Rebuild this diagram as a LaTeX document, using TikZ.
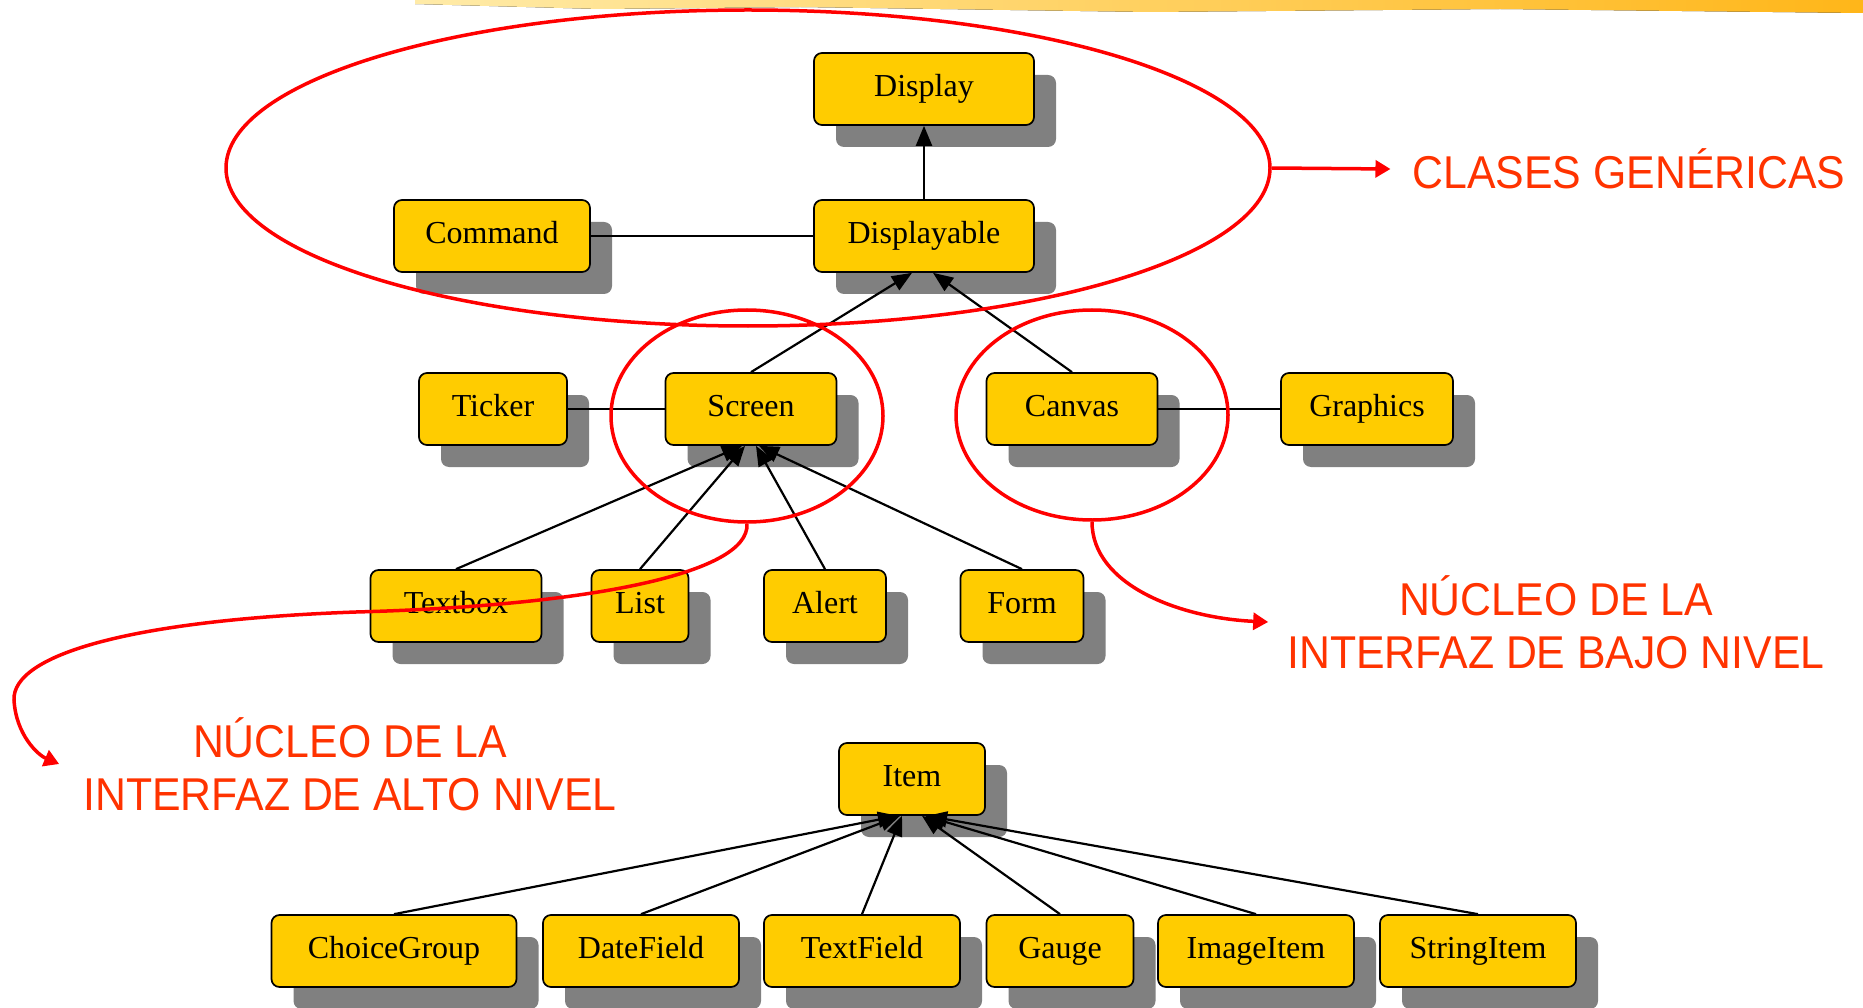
\documentclass[tikz,border=0pt]{standalone}
\usepackage{fontspec}
\setmainfont{Liberation Serif}
\newfontfamily\notefont[FakeStretch=0.93]{Liberation Sans}
\usetikzlibrary{shadows,arrows.meta,shapes.geometric}
\definecolor{boxyellow}{HTML}{FFCC00}
\definecolor{notered}{HTML}{FF3300}
\definecolor{brushlight}{HTML}{FFEBA8}
\definecolor{brushdark}{HTML}{FFB619}
\tikzstyle{cls}=[rectangle,rounded corners=8pt,draw=black,line width=1.7pt,fill=boxyellow,minimum height=72pt,inner sep=0pt,text height=22pt,text depth=7pt,font=\fontsize{32}{32}\selectfont,drop shadow={shadow xshift=22pt,shadow yshift=-22pt,fill=black!50,opacity=1}]
\tikzstyle{inh}=[line width=2.2pt,-{Triangle[width=16pt,length=20pt]}]
\tikzstyle{assoc}=[line width=2.2pt]
\tikzstyle{ring}=[ellipse,draw=red,line width=3.5pt,inner sep=0pt]
\tikzstyle{callout}=[draw=red,line width=3.5pt,-{Triangle[width=17pt,length=15pt]}]
\tikzstyle{note}=[text=notered,font=\notefont\fontsize{46}{53}\selectfont,align=center,inner sep=0pt]

\begin{document}
\begin{tikzpicture}[x=1pt,y=-1pt]
		\useasboundingbox (0,0) rectangle (1863,1008);
		% brush stroke along the top edge
		\fill[left color=brushlight,right color=brushdark] (415,0) -- (1863,0) -- (1863,13) -- (1500,9) -- (1150,12) -- (800,7) -- (600,9) -- (415,4) -- cycle;
		% classes
		\node[cls,minimum width=220pt] at (924,89) (display) {Display};
		\node[cls,minimum width=220pt] at (924,236) (displayable) {Displayable};
		\node[cls,minimum width=196pt] at (492,236) (command) {Command};
		\node[cls,minimum width=148pt] at (493,409) (ticker) {Ticker};
		\node[cls,minimum width=171pt] at (751,409) (screen) {Screen};
		\node[cls,minimum width=171pt] at (1072,409) (canvas) {Canvas};
		\node[cls,minimum width=172pt] at (1367,409) (graphics) {Graphics};
		\node[cls,minimum width=171pt] at (456,606) (textbox) {Textbox};
		\node[cls,minimum width=97pt] at (640,606) (list) {List};
		\node[cls,minimum width=122pt] at (825,606) (alert) {Alert};
		\node[cls,minimum width=123pt] at (1022,606) (form) {Form};
		\node[cls,minimum width=146pt] at (912,779) (item) {Item};
		\node[cls,minimum width=245pt] at (394,951) (choicegroup) {ChoiceGroup};
		\node[cls,minimum width=196pt] at (641,951) (datefield) {DateField};
		\node[cls,minimum width=196pt] at (862,951) (textfield) {TextField};
		\node[cls,minimum width=147pt] at (1060,951) (gauge) {Gauge};
		\node[cls,minimum width=196pt] at (1256,951) (imageitem) {ImageItem};
		\node[cls,minimum width=196pt] at (1478,951) (stringitem) {StringItem};
		% relations
		\draw[inh] (displayable) -- (display);
		\draw[assoc] (command) -- (displayable);
		\draw[inh] (screen.north) -- ([xshift=-12pt]displayable.south);
		\draw[inh] (canvas.north) -- ([xshift=9pt]displayable.south);
		\draw[assoc] (ticker) -- (screen);
		\draw[assoc] (canvas) -- (graphics);
		\draw[inh] (textbox.north) -- ([xshift=-9pt]screen.south);
		\draw[inh] (list.north) -- ([xshift=-6pt]screen.south);
		\draw[inh] (alert.north) -- ([xshift=5pt]screen.south);
		\draw[inh] (form.north) -- ([xshift=8pt]screen.south);
		\draw[inh] (choicegroup.north) -- ([xshift=-14pt]item.south);
		\draw[inh] (datefield.north) -- ([xshift=-12pt]item.south);
		\draw[inh] (textfield.north) -- ([xshift=-10pt]item.south);
		\draw[inh] (gauge.north) -- ([xshift=10pt]item.south);
		\draw[inh] (imageitem.north) -- ([xshift=13pt]item.south);
		\draw[inh] (stringitem.north) -- ([xshift=15pt]item.south);
		% red annotations
		\node[ring,minimum width=1044pt,minimum height=316pt] at (748,168) (genericring) {};
		\node[ring,minimum width=272pt,minimum height=212pt] at (747,416) (highring) {};
		\node[ring,minimum width=272pt,minimum height=210pt] at (1092,415) (lowring) {};
		\node[note] at (1629,169) (genericnote) {CLASES GENÉRICAS};
		\node[note] at (1556,622) (lownote) {NÚCLEO DE LA\\INTERFAZ DE BAJO NIVEL};
		\node[note] at (350,764) (highnote) {NÚCLEO DE LA\\INTERFAZ DE ALTO NIVEL};
		\draw[callout] (genericring.east) -- ([xshift=-22pt]genericnote.west);
		\draw[callout] (lowring.south) .. controls (1092,585) and (1180,618) .. ([xshift=-19pt]lownote.west);
		\draw[callout] (highring.south) .. controls (750,575) and (580,606) .. (356,612) .. controls (130,620) and (12,655) .. (14,700) .. controls (16,735) and (38,755) .. ([xshift=-24pt]highnote.west);
		\end{tikzpicture}
\end{document}
